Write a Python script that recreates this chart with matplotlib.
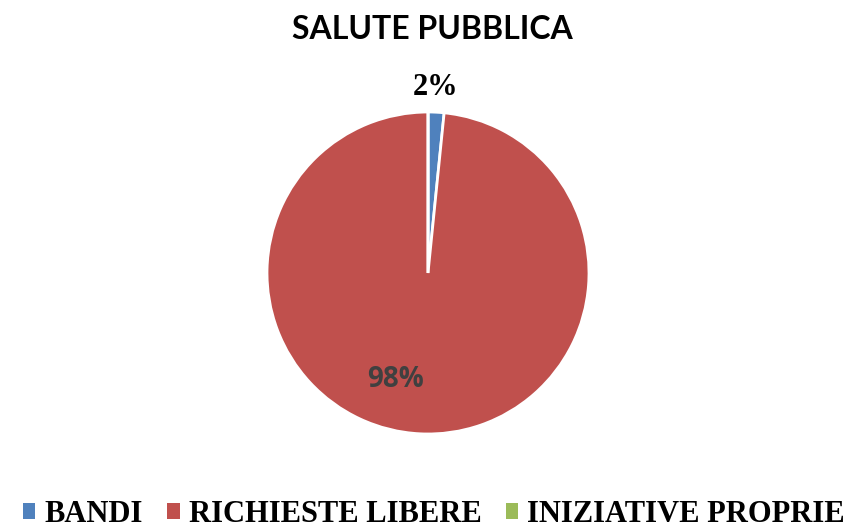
import matplotlib.pyplot as plt
from matplotlib.patches import Patch

categories = ["BANDI", "RICHIESTE LIBERE", "INIZIATIVE PROPRIE"]
values = [1.6, 98.4, 0.0]
colors = ["#4F81BD", "#C0504D", "#9BBB59"]

fig = plt.figure(figsize=(8.56, 5.30), dpi=100)
fig.text(0.505, 0.945, "SALUTE PUBBLICA", ha="center", va="center",
         fontsize=23, fontweight="bold", family="Lato")

# pie area: centre at (428, 273) px, radius about 161 px
ax = fig.add_axes([267 / 856, 1 - 434 / 530, 322 / 856, 322 / 530])
wedges, texts, autotexts = ax.pie(
    values, colors=colors, startangle=90, counterclock=False,
    autopct="%1.0f%%", pctdistance=0.7,
    wedgeprops=dict(edgecolor="white", linewidth=2))
ax.set_xlim(-1, 1)
ax.set_ylim(-1, 1)
ax.set_aspect("equal")

# label placement as in the original
autotexts[0].set_position((0.05, 1.15))
autotexts[0].set_fontsize(22)
autotexts[0].set_fontweight("bold")
autotexts[0].set_family("Liberation Serif")
autotexts[0].set_color("black")
autotexts[0].set_clip_on(False)

autotexts[1].set_position((-0.2, -0.66))
autotexts[1].set_fontsize(20)
autotexts[1].set_fontweight("bold")
autotexts[1].set_family("Open Sans")
autotexts[1].set_color("#404040")

autotexts[2].set_visible(False)

handles = [Patch(facecolor=c, edgecolor="none") for c in colors]
fig.legend(handles, categories, loc="lower center", ncol=3,
           bbox_to_anchor=(0.507, -0.05), frameon=False,
           handlelength=0.4, handleheight=0.4, handletextpad=0.3,
           columnspacing=0.8,
           prop=dict(family="Liberation Serif", weight="bold", size=22))

fig.savefig("out.png", dpi=100)
